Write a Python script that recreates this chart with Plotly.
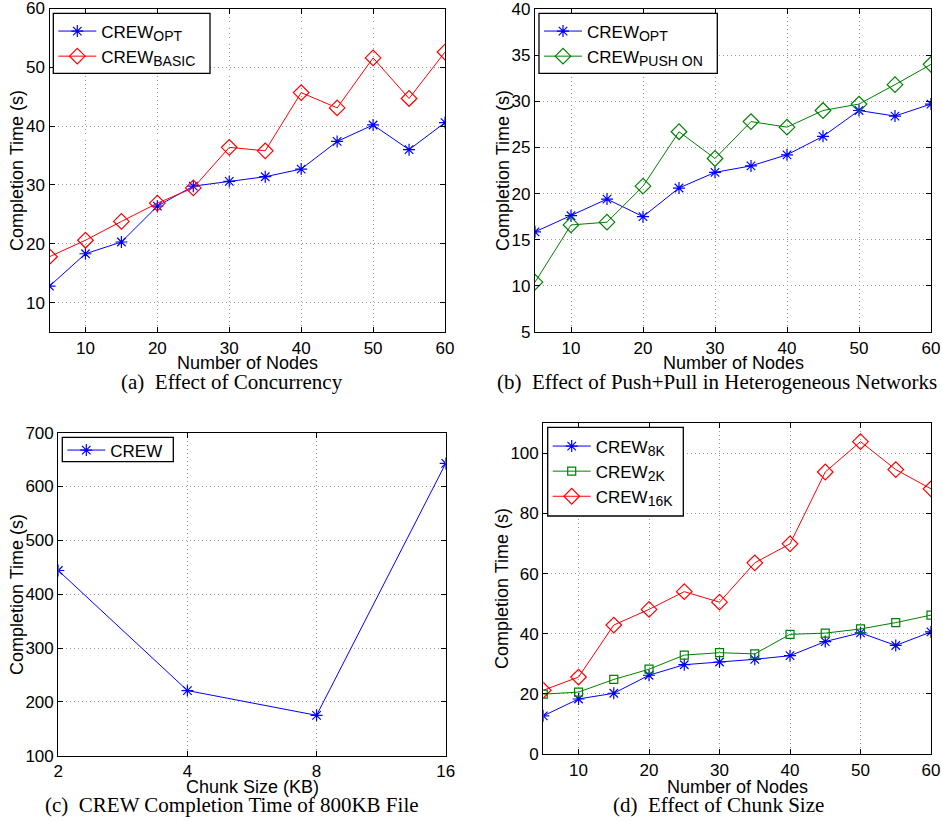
import plotly.graph_objects as go

# ---------------- data ----------------
nodes = [5, 10, 15, 20, 25, 30, 35, 40, 45, 50, 55, 60]

# (a) Effect of Concurrency
a_opt = [12.8, 18.3, 20.3, 26.4, 29.8, 30.6, 31.4, 32.7, 37.4, 40.2, 36.0, 40.6]
a_basic = [17.8, 20.6, 23.8, 26.9, 29.5, 36.4, 35.8, 45.7, 43.1, 51.6, 44.7, 52.6]

# (b) Effect of Push+Pull in Heterogeneous Networks
b_opt = [15.85, 17.6, 19.4, 17.5, 20.6, 22.3, 23.0, 24.2, 26.2, 29.0, 28.4, 29.7]
b_push = [10.4, 16.6, 16.9, 20.8, 26.7, 23.8, 27.8, 27.2, 29.0, 29.7, 31.8, 34.0]

# (c) CREW Completion Time of 800KB File
chunk_kb = [2, 4, 8, 16]
c_crew = [444, 221, 175, 643]

# (d) Effect of Chunk Size
d_8k = [12.7, 18.3, 20.2, 26.2, 29.7, 30.6, 31.5, 32.7, 37.4, 40.3, 36.1, 40.6]
d_2k = [19.9, 20.6, 24.8, 28.2, 32.9, 33.7, 33.3, 39.8, 40.2, 41.6, 43.7, 46.2]
d_16k = [21.2, 25.6, 42.9, 48.1, 54.0, 50.5, 63.6, 69.9, 93.8, 103.9, 94.6, 88.2]

x_titles = ["Number of Nodes", "Number of Nodes", "Chunk Size (KB)", "Number of Nodes"]
y_title = "Completion Time (s)"
captions = [
    "(a)  Effect of Concurrency",
    "(b)  Effect of Push+Pull in Heterogeneous Networks",
    "(c)  CREW Completion Time of 800KB File",
    "(d)  Effect of Chunk Size",
]

# ---------------- styling ----------------
W, H = 942, 821
SANS = "Liberation Sans, Arial, Helvetica, sans-serif"
SERIF = "Liberation Serif, Times New Roman, serif"
BLUE, RED, GREEN = "#0000ff", "#ff0000", "#008000"


def sub(main, s):
    return f"{main}<sub><span style='font-size:14px'>{s}</span></sub>"


def px_x(p):
    return p / W


def px_y(p):
    return 1 - p / H


fig = go.Figure()


def add(x, y, name, color, symbol, size, xa, ya, legend):
    fig.add_trace(go.Scatter(
        x=x, y=y, name=name, mode="lines+markers",
        line=dict(color=color, width=1),
        marker=dict(symbol=symbol, size=size, color=color,
                    line=dict(color=color, width=1.2)),
        xaxis=xa, yaxis=ya, legend=legend,
    ))


add(nodes, a_opt, sub("CREW", "OPT"), BLUE, "asterisk-open", 10, "x", "y", "legend")
add(nodes, a_basic, sub("CREW", "BASIC"), RED, "diamond-open", 12, "x", "y", "legend")
add(nodes, b_opt, sub("CREW", "OPT"), BLUE, "asterisk-open", 10, "x2", "y2", "legend2")
add(nodes, b_push, sub("CREW", "PUSH ON"), GREEN, "diamond-open", 12, "x2", "y2", "legend2")
add(chunk_kb, c_crew, "CREW", BLUE, "asterisk-open", 10, "x3", "y3", "legend3")
add(nodes, d_8k, sub("CREW", "8K"), BLUE, "asterisk-open", 10, "x4", "y4", "legend4")
add(nodes, d_2k, sub("CREW", "2K"), GREEN, "square-open", 8, "x4", "y4", "legend4")
add(nodes, d_16k, sub("CREW", "16K"), RED, "diamond-open", 12, "x4", "y4", "legend4")

common = dict(
    showline=True, linecolor="black", linewidth=1.3, mirror="ticks",
    ticks="inside", ticklen=5, tickcolor="black", tickwidth=1,
    showgrid=True, gridcolor="#999999", griddash="1px,3px", gridwidth=1,
    zeroline=False, automargin=False, ticklabeloverflow="allow",
    tickfont=dict(family=SANS, size=17, color="black"),
)

# axis domains in pixels: (left, right, top, bottom)
boxes = [
    (49.5, 445.0, 8.5, 332.0),
    (535.0, 931.0, 9.0, 332.0),
    (58.3, 445.7, 432.7, 755.7),
    (543.3, 931.0, 423.3, 754.0),
]

xa_cfg = [
    dict(range=[5, 60], tickvals=[10, 20, 30, 40, 50, 60]),
    dict(range=[5, 60], tickvals=[10, 20, 30, 40, 50, 60]),
    dict(type="log", range=[0.30103, 1.20412], tickvals=chunk_kb,
         ticktext=[str(v) for v in chunk_kb]),
    dict(range=[5, 60], tickvals=[10, 20, 30, 40, 50, 60]),
]
ya_cfg = [
    dict(range=[5, 60], tickvals=[10, 20, 30, 40, 50, 60]),
    dict(range=[5, 40], tickvals=[5, 10, 15, 20, 25, 30, 35, 40]),
    dict(range=[100, 700], tickvals=[100, 200, 300, 400, 500, 600, 700]),
    dict(range=[0, 110], tickvals=[0, 20, 40, 60, 80, 100]),
]

layout = dict(
    width=W, height=H, margin=dict(l=0, r=0, t=0, b=0),
    paper_bgcolor="white", plot_bgcolor="white",
    font=dict(family=SANS, color="black"),
)

for i, (l, r, t, b) in enumerate(boxes):
    sfx = "" if i == 0 else str(i + 1)
    xk, yk = "xaxis" + sfx, "yaxis" + sfx
    layout[xk] = dict(common, domain=[px_x(l), px_x(r)], anchor="y" + sfx, **xa_cfg[i])
    layout[yk] = dict(common, domain=[px_y(b), px_y(t)], anchor="x" + sfx, **ya_cfg[i])

# legend frames (left, top, right, bottom) in pixels, drawn as white boxes
legend_boxes = [
    (53.3, 13.3, 210.0, 73.3),
    (539.0, 13.3, 717.3, 73.3),
    (62.3, 437.3, 173.3, 461.7),
    (547.7, 427.3, 683.3, 516.0),
]
# legend content anchor (left, top) in pixels
legend_pos = [(53.3, 13.5), (539.0, 13.5), (62.3, 432.5), (547.7, 428.5)]
for i, (lx, ly) in enumerate(legend_pos):
    key = "legend" if i == 0 else f"legend{i + 1}"
    layout[key] = dict(
        x=px_x(lx), y=px_y(ly), xanchor="left", yanchor="top",
        bgcolor="rgba(0,0,0,0)", borderwidth=0,
        font=dict(family=SANS, size=17, color="black"),
        tracegroupgap=0, itemwidth=38,
    )

fig.update_layout(**layout)

for (l, t, r, b) in legend_boxes:
    fig.add_shape(
        type="rect", xref="paper", yref="paper",
        x0=px_x(l), x1=px_x(r), y0=px_y(b), y1=px_y(t),
        line=dict(color="black", width=1.3), fillcolor="white", layer="above",
    )

# x-axis titles (just under the tick labels)
xt_pos = [(247, 363), (733, 363), (252, 787), (737, 787)]
for txt, (cx, cy) in zip(x_titles, xt_pos):
    fig.add_annotation(
        text=txt, x=px_x(cx), y=px_y(cy), xref="paper", yref="paper",
        xanchor="center", yanchor="middle", showarrow=False,
        font=dict(family=SANS, size=18, color="black"),
    )

# y-axis titles (rotated)
yt_pos = [(17, 171), (503, 171), (17, 595), (502, 589)]
for cx, cy in yt_pos:
    fig.add_annotation(
        text=y_title, x=px_x(cx), y=px_y(cy), xref="paper", yref="paper",
        xanchor="center", yanchor="middle", showarrow=False, textangle=-90,
        font=dict(family=SANS, size=18, color="black"),
    )

cap_pos = [(232, 382), (717, 382), (232, 805), (718, 805)]
for txt, (cx, cy) in zip(captions, cap_pos):
    fig.add_annotation(
        text=txt, x=px_x(cx), y=px_y(cy), xref="paper", yref="paper",
        xanchor="center", yanchor="middle", showarrow=False,
        font=dict(family=SERIF, size=21, color="black"),
    )

fig.write_html("out.html", config={"displayModeBar": False},
               post_script="document.body.style.margin='0px';")
